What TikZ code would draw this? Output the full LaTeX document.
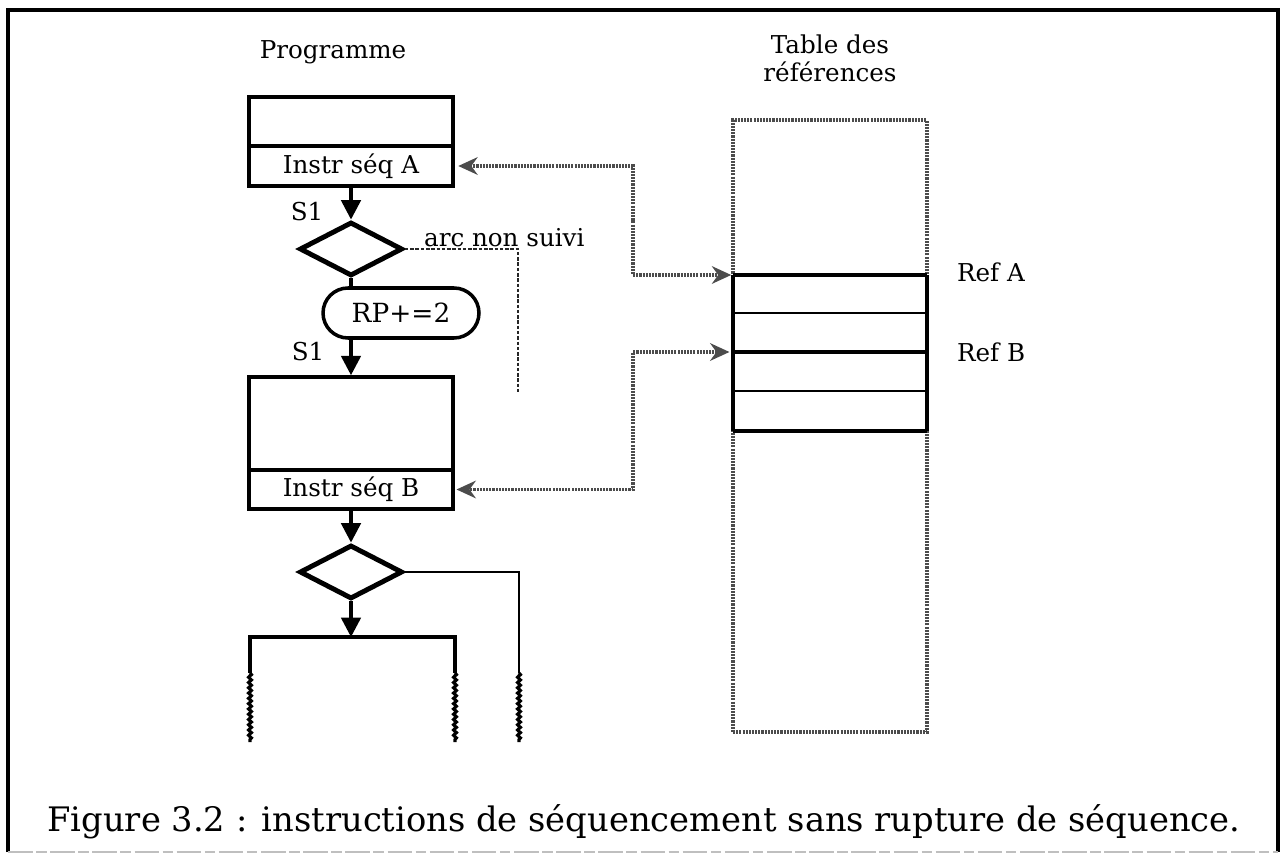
\documentclass[tikz,border=0pt]{standalone}
\usepackage{fontspec}
\setmainfont{DejaVu Serif}
\usetikzlibrary{arrows.meta,shapes.geometric,decorations.pathmorphing}

\tikzset{
  lbl/.style={font=\fontsize{14}{16}\selectfont,inner sep=1pt},
  box/.style={draw,line width=2pt,inner sep=0pt,minimum width=4.08cm,font=\fontsize{14}{16}\selectfont},
  cond/.style={draw,diamond,line width=2.8pt,inner sep=0pt,minimum width=2.06cm,minimum height=1.08cm},
  flow/.style={line width=2pt,-{Triangle[length=11pt,width=11pt]}},
  refline/.style={black!70,line width=1.8pt,dash pattern=on 1.2pt off 0.6pt,
    {Stealth[length=11pt,width=10pt]}-{Stealth[length=11pt,width=10pt]},shorten <=2pt,shorten >=1pt},
  stip/.style={black!70,line width=2pt,dash pattern=on 1.2pt off 0.6pt},
  nonsuivi/.style={black!85,line width=1.5pt,dash pattern=on 2pt off 1pt},
  wavy/.style={line width=1.8pt,decorate,decoration={snake,amplitude=0.8pt,segment length=3pt}}
}

\begin{document}
\begin{tikzpicture}[x=0.02cm,y=-0.02cm]
\useasboundingbox (0,0) rectangle (1286,858);
\draw[line width=2.2pt] (8,852) -- (8,10) -- (1278,10) -- (1278,852);
\draw[black!25,line width=1.2pt,dash pattern=on 14pt off 2pt on 6pt off 2pt] (8,852) -- (1278,852);

\node[lbl] (prog) at (333,52) {Programme};
\node[lbl,align=center] (tabtitle) at (830,58) {Table des\\références};

\node[box,minimum height=0.98cm] (boxA) at (351,121.5) {};
\node[box,minimum height=0.8cm] (instrA) at (351,166) {Instr séq A};
\node[cond] (dec1) at (351,249) {};
\draw[flow] (instrA.south) -- (dec1.north);
\node[lbl] (s1a) at (307,212) {S1};
\node[draw,line width=2pt,rounded corners=0.5cm,minimum width=3.12cm,minimum height=1cm,
  font=\fontsize{15}{17}\selectfont] (rp) at (401,313) {RP+=2};
\draw[line width=2pt] (dec1.south) -- (dec1.south |- rp.north);
\node[box,minimum height=1.86cm] (boxB) at (351,423.5) {};
\node[box,minimum height=0.78cm] (instrB) at (351,489.5) {Instr séq B};
\draw[flow] (boxB.north |- rp.south) -- (boxB.north);
\node[lbl] (s1b) at (308,352) {S1};

\coordinate (nsend) at (518,392);
\draw[nonsuivi] (dec1.east) -| (nsend);
\node[lbl,anchor=base west] (arcns) at (422,247) {arc non suivi};

\node[cond] (dec2) at (351,572) {};
\draw[flow] (instrB.south) -- (dec2.north);
\coordinate (boxCtop) at (351,637);
\draw[flow] (dec2.south) -- (boxCtop);
\draw[line width=2pt] (250,673) -- (250,637) -- (455,637) -- (455,673);
\draw[line width=1.7pt] (dec2.east) -| (519,673);
\draw[wavy] (250,673) -- (250,742);
\draw[wavy] (455,673) -- (455,742);
\draw[wavy] (519,673) -- (519,742);

\node[stip,draw,minimum width=3.88cm,minimum height=12.24cm,inner sep=0pt] (table) at (830,426) {};
\coordinate (refA) at (733,275);
\coordinate (refB) at (733,352);
\draw[line width=2pt] (733,275) -- (733,431) (927,275) -- (927,431);
\foreach \yy in {275,352,431}
  \draw[line width=2.6pt] (733,\yy) -- (927,\yy);
\foreach \yy in {313,391}
  \draw[line width=1.6pt] (733,\yy) -- (927,\yy);
\node[lbl,anchor=west] (refAl) at (955,272) {Ref A};
\node[lbl,anchor=west] (refBl) at (955,352) {Ref B};

\draw[refline] (instrA.east) -| (633,220) |- (refA);
\draw[refline] (refB) -| (633,420) |- (instrB.east);

\node[font=\fontsize{19.2}{23}\selectfont] (caption) at (644,822)
  {Figure 3.2 : instructions de séquencement sans rupture de séquence.};
\end{tikzpicture}
\end{document}
